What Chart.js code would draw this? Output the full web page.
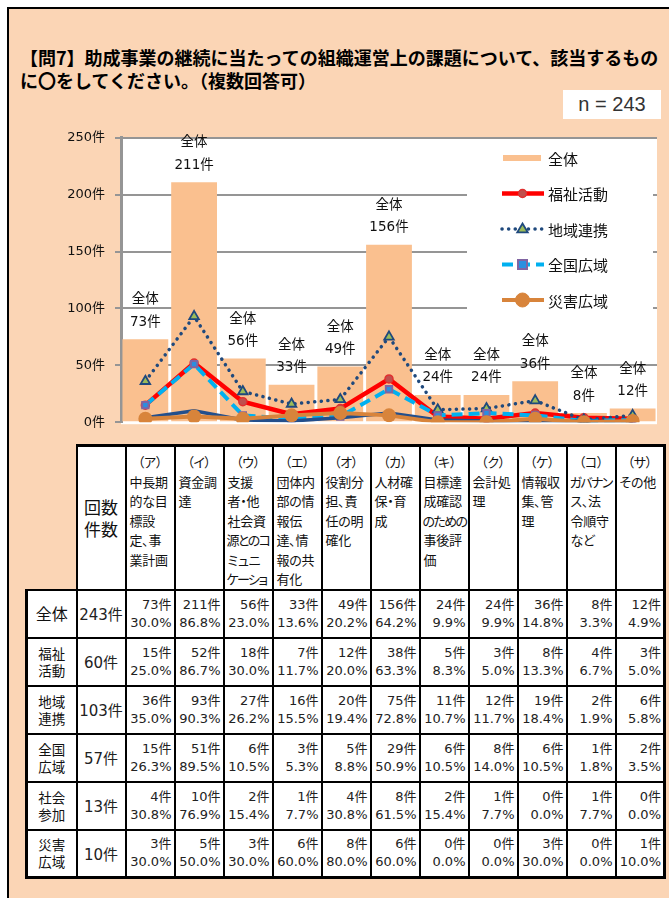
<!DOCTYPE html>
<html lang="ja">
<head>
<meta charset="utf-8">
<script src="https://cdn.jsdelivr.net/npm/chart.js@4.4.1/dist/chart.umd.min.js"></script>
<style>
  html, body { margin:0; padding:0; background:#fff; width:669px; height:898px; overflow:hidden; }
  #frame { position:absolute; left:7px; top:7px; width:720px; height:950px; background:#FBD5B5;
           border-left:2px solid #000; border-top:2px solid #000; }
  #title { position:absolute; left:20px; top:46px; font:bold 18px/23px "Noto Sans CJK JP", sans-serif;
           color:#000; white-space:nowrap; letter-spacing:0px; }
  #nbox { position:absolute; left:563px; top:90px; width:98px; height:29px; background:#fff;
          font:20px/29px "Liberation Sans", Arial, sans-serif; color:#333; text-align:center; }
  #c { position:absolute; left:0; top:120px; }
  #tbl { position:absolute; left:25px; top:444px; border-collapse:collapse; table-layout:fixed; width:639px;
         border:3px solid #000; }
  #tbl td { border:2px solid #000; background:#fff; padding:0; overflow:hidden; }
  #tbl td.blank { background:transparent; border-top-style:hidden; border-left-style:hidden; }
  #tbl tr.head { height:143px; }
  #tbl tr.row { height:48px; }
  .hd { font:13px/19.5px "Noto Sans CJK JP", sans-serif; font-feature-settings:"palt"; color:#111;
        vertical-align:top; padding:5px 0 0 3px !important; white-space:nowrap; letter-spacing:-0.3px; }
  .hd .k { display:block; text-align:center; margin-left:-3px; }
  .hd .ln { display:block; }
  .hd .ln.long { letter-spacing:-1.6px; margin-left:-1px; }
  .hn { font:17px/22px "Noto Sans CJK JP", sans-serif; text-align:center; vertical-align:middle; color:#111; }
  .rl { font:13.5px/17px "Noto Sans CJK JP", sans-serif; text-align:center; vertical-align:middle; color:#111; }
  .rl.big { font-size:16px; }
  .tot { font:15px "DejaVu Sans", "Noto Sans CJK JP", sans-serif; text-align:center; vertical-align:middle; color:#222; }
  .dc { font:13px/18px "DejaVu Sans", "Noto Sans CJK JP", sans-serif; text-align:right; vertical-align:middle;
        padding-right:2px !important; color:#222; white-space:nowrap; }
</style>
</head>
<body>
<div id="frame"></div>
<div id="title">【問7】助成事業の継続に当たっての組織運営上の課題について、該当するもの<br>に〇をしてください。（複数回答可）</div>
<div id="nbox">n = 243</div>
<canvas id="c" width="669" height="320"></canvas>
<table id="tbl"></table>
<script>
// ---- data ----
const categories = ['（ア）','（イ）','（ウ）','（エ）','（オ）','（カ）','（キ）','（ク）','（ケ）','（コ）','（サ）'];
const categoryText = [
  ['中長期','的な目','標設','定、事','業計画'],
  ['資金調','達'],
  ['支援','者・他','社会資','源とのコ','ミュニ','ケーショ'],
  ['団体内','部の情','報伝','達、情','報の共','有化'],
  ['役割分','担、責','任の明','確化'],
  ['人材確','保・育','成'],
  ['目標達','成確認','のための','事後評','価'],
  ['会計処','理'],
  ['情報収','集、管','理'],
  ['ガバナン','ス、法','令順守','など'],
  ['その他']
];
const groupNames = ['全体','福祉活動','地域連携','全国広域','社会参加','災害広域'];
const groupLabelLines = [['全体'],['福祉','活動'],['地域','連携'],['全国','広域'],['社会','参加'],['災害','広域']];
const groupTotals = [243, 60, 103, 57, 13, 10];
const zentai  = [73, 211, 56, 33, 49, 156, 24, 24, 36, 8, 12];
const fukushi = [15, 52, 18, 7, 12, 38, 5, 3, 8, 4, 3];
const chiiki  = [36, 93, 27, 16, 20, 75, 11, 12, 19, 2, 6];
const zenkoku = [15, 51, 6, 3, 5, 29, 6, 8, 6, 1, 2];
const shakai  = [4, 10, 2, 1, 4, 8, 2, 1, 0, 1, 0];
const saigai  = [3, 5, 3, 6, 8, 6, 0, 0, 3, 0, 1];
const yTicks  = [0, 50, 100, 150, 200, 250];
const unit = '件';
const legendOrder = ['全体','福祉活動','地域連携','全国広域','災害広域'];

// ---- table ----
(function buildTable(){
  const series = [zentai, fukushi, chiiki, zenkoku, shakai, saigai];
  const t = document.getElementById('tbl');
  let html = '<colgroup><col style="width:50px"><col style="width:49px">' +
    categories.map(()=>'<col style="width:49px">').join('') + '</colgroup>';
  html += '<tr class="head"><td class="blank"></td><td class="hn">回数<br>件数</td>';
  categories.forEach((c,i)=>{
    html += '<td class="hd"><span class="k">' + c + '</span>' +
      categoryText[i].map(l=>'<span class="ln' + (l.length>=4?' long':'') + '">' + l + '</span>').join('') + '</td>';
  });
  html += '</tr>';
  series.forEach((s,gi)=>{
    html += '<tr class="row"><td class="rl' + (gi===0?' big':'') + '">' + groupLabelLines[gi].join('<br>') + '</td>';
    html += '<td class="tot">' + groupTotals[gi] + unit + '</td>';
    s.forEach(v=>{
      const pct = (Math.round(v / groupTotals[gi] * 1000) / 10).toFixed(1) + '%';
      html += '<td class="dc">' + v + unit + '<br>' + pct + '</td>';
    });
    html += '</tr>';
  });
  t.innerHTML = html;
})();

// ---- chart ----
const COLORS = {
  bar:'#FAC08F', red:'#FF0000', navy:'#1F497D', cyan:'#00B0F0', navy2:'#234F8C', orange:'#D8843B'
};
const plotBg = {
  id:'plotBg',
  beforeDraw(chart){
    const {ctx, chartArea:a} = chart;
    ctx.save(); ctx.fillStyle='#fff';
    ctx.fillRect(a.left, a.top, a.right-a.left, a.bottom-a.top+2);
    ctx.restore();
  }
};
const barLabels = {
  id:'barLabels',
  afterDatasetsDraw(chart){
    const ctx = chart.ctx;
    const idx = chart.data.datasets.findIndex(d=>d.type==='bar');
    const meta = chart.getDatasetMeta(idx);
    ctx.save();
    ctx.fillStyle='#111'; ctx.textAlign='center'; ctx.textBaseline='middle';
    meta.data.forEach((el,i)=>{
      ctx.font='13.5px "Noto Sans CJK JP", sans-serif';
      ctx.fillText(chart.data.datasets[idx].label, el.x, el.y-41);
      ctx.font='13.5px "DejaVu Sans", "Noto Sans CJK JP", sans-serif';
      ctx.fillText(chart.data.datasets[idx].data[i] + unit, el.x, el.y-17);
    });
    ctx.restore();
  }
};
function marker(ctx, ds, x, y){
  const st = ds.pointStyle || 'circle', r = ds.pointRadius;
  if (!r) return;
  ctx.save();
  ctx.setLineDash([]);
  ctx.fillStyle = ds.pointBackgroundColor || ds.borderColor;
  ctx.strokeStyle = ds.pointBorderColor || ds.borderColor;
  ctx.lineWidth = ds.pointBorderWidth || 0;
  ctx.beginPath();
  if (st==='circle') ctx.arc(x, y, r, 0, Math.PI*2);
  else if (st==='rect') ctx.rect(x-r, y-r, 2*r, 2*r);
  else if (st==='triangle'){ ctx.moveTo(x, y-r); ctx.lineTo(x+r*0.95, y+r*0.6); ctx.lineTo(x-r*0.95, y+r*0.6); ctx.closePath(); }
  ctx.fill(); if (ctx.lineWidth>0) ctx.stroke();
  ctx.restore();
}
const boxLegend = {
  id:'boxLegend',
  afterDraw(chart){
    const ctx = chart.ctx;
    const x0=467, y0=22, w=186, h=176;
    ctx.save();
    ctx.fillStyle='#fff'; ctx.fillRect(x0,y0,w,h);
    legendOrder.forEach((name,i)=>{
      const ds = chart.data.datasets.find(d=>d.label===name);
      const y = 38 + i*35.5;
      if (ds.type==='bar'){
        ctx.fillStyle = ds.backgroundColor; ctx.fillRect(503, y-3, 38, 6);
      } else {
        ctx.save();
        ctx.strokeStyle = ds.borderColor; ctx.lineWidth = ds.borderWidth;
        ctx.lineCap = ds.borderCapStyle || 'butt';
        ctx.setLineDash(ds.borderDash || []);
        ctx.beginPath(); ctx.moveTo(502, y); ctx.lineTo(544, y); ctx.stroke();
        ctx.restore();
        marker(ctx, ds, 522.5, y);
      }
      ctx.fillStyle='#111'; ctx.font='15px "Noto Sans CJK JP", sans-serif';
      ctx.textAlign='left'; ctx.textBaseline='middle';
      ctx.fillText(name, 548, y+1);
    });
    ctx.restore();
  }
};

new Chart(document.getElementById('c'), {
  data: {
    labels: categories,
    datasets: [
      { type:'line', label:groupNames[5], data:saigai, order:1, borderColor:COLORS.orange, backgroundColor:COLORS.orange,
        borderWidth:4, tension:0, pointStyle:'circle', pointRadius:7, pointBackgroundColor:COLORS.orange, pointBorderWidth:0 },
      { type:'line', label:groupNames[4], data:shakai, order:2, borderColor:COLORS.navy2, borderWidth:3.5, tension:0,
        pointRadius:0 },
      { type:'line', label:groupNames[3], data:zenkoku, order:3, borderColor:COLORS.cyan, borderWidth:4, borderDash:[11,6],
        tension:0, pointStyle:'rect', pointRadius:4.5, pointBackgroundColor:'#2A8FE0', pointBorderColor:'#8064A2', pointBorderWidth:2 },
      { type:'line', label:groupNames[2], data:chiiki, order:4, borderColor:COLORS.navy, borderWidth:3.5, borderDash:[0.1,6.5],
        borderCapStyle:'round', tension:0, pointStyle:'triangle', pointRadius:5.5, pointBackgroundColor:'#9BBB59',
        pointBorderColor:COLORS.navy, pointBorderWidth:1.8 },
      { type:'line', label:groupNames[1], data:fukushi, order:5, borderColor:COLORS.red, borderWidth:4.5, tension:0,
        pointStyle:'circle', pointRadius:4, pointBackgroundColor:'#C0504D', pointBorderColor:'#E03030', pointBorderWidth:1.5 },
      { type:'bar', label:groupNames[0], data:zentai, order:10, backgroundColor:COLORS.bar,
        barPercentage:0.94, categoryPercentage:1 }
    ]
  },
  options: {
    responsive:false, animation:false, events:[], devicePixelRatio:1,
    layout:{ padding:{ left:0, right:12, top:17, bottom:17 } },
    plugins:{ legend:{ display:false }, tooltip:{ enabled:false } },
    scales:{
      x:{ display:false, offset:true },
      y:{ min:0, max:250,
          afterBuildTicks(s){ s.ticks = yTicks.map(v=>({value:v})); },
          afterFit(s){ s.width = 121; },
          ticks:{ callback:v=>v+unit, color:'#111', padding:10,
                  font:{ family:'"DejaVu Sans", "Noto Sans CJK JP", sans-serif', size:13 } },
          grid:{ color:c=> (c.tick && c.tick.value===0) ? 'rgba(0,0,0,0)' : '#959595', lineWidth:2,
                 tickLength:6, tickColor:'#959595', tickWidth:2 },
          border:{ color:'#959595', width:3 } }
    }
  },
  plugins:[plotBg, barLabels, boxLegend]
});
</script>
</body>
</html>
